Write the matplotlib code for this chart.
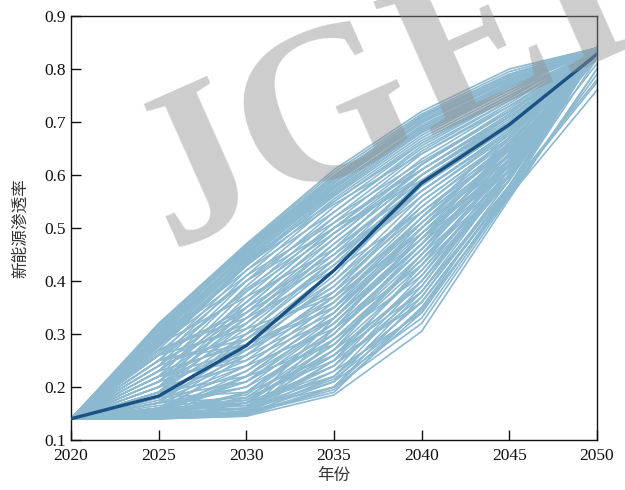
import matplotlib
matplotlib.use("Agg")
import matplotlib.pyplot as plt
import numpy as np

# Data
years = [2020, 2025, 2030, 2035, 2040, 2045, 2050]
start_value = 0.14

# scenario trajectories, values for 2025..2050 (2020 is start_value for all)
upper_band = [
    [0.32, 0.47, 0.61, 0.72, 0.80, 0.84],
    [0.31, 0.465, 0.60, 0.71, 0.79, 0.84],
    [0.305, 0.46, 0.595, 0.705, 0.785, 0.84],
    [0.30, 0.455, 0.59, 0.70, 0.78, 0.835],
    [0.295, 0.45, 0.58, 0.69, 0.775, 0.84],
    [0.29, 0.445, 0.575, 0.69, 0.77, 0.835],
    [0.285, 0.44, 0.57, 0.685, 0.77, 0.84],
    [0.28, 0.435, 0.565, 0.68, 0.765, 0.835],
    [0.31, 0.46, 0.58, 0.68, 0.76, 0.83],
    [0.27, 0.43, 0.56, 0.675, 0.76, 0.84],
    [0.26, 0.42, 0.555, 0.67, 0.755, 0.835],
    [0.25, 0.41, 0.55, 0.665, 0.75, 0.83],
    [0.30, 0.44, 0.55, 0.66, 0.745, 0.84],
    [0.24, 0.40, 0.54, 0.66, 0.75, 0.835],
    [0.29, 0.42, 0.53, 0.65, 0.74, 0.83],
    [0.23, 0.39, 0.53, 0.655, 0.745, 0.84],
    [0.22, 0.38, 0.52, 0.645, 0.74, 0.835],
    [0.275, 0.43, 0.545, 0.64, 0.73, 0.83],
    [0.21, 0.37, 0.51, 0.64, 0.735, 0.84],
    [0.20, 0.36, 0.50, 0.63, 0.73, 0.835],
    [0.265, 0.40, 0.52, 0.625, 0.72, 0.82],
    [0.25, 0.385, 0.50, 0.62, 0.725, 0.84],
    [0.19, 0.35, 0.49, 0.62, 0.72, 0.83],
    [0.285, 0.41, 0.51, 0.61, 0.71, 0.835],
    [0.24, 0.36, 0.48, 0.61, 0.715, 0.84],
    [0.315, 0.468, 0.605, 0.715, 0.795, 0.84],
    [0.312, 0.462, 0.598, 0.712, 0.79, 0.838],
    [0.308, 0.458, 0.592, 0.708, 0.788, 0.84],
    [0.302, 0.452, 0.586, 0.702, 0.782, 0.836],
    [0.298, 0.448, 0.584, 0.698, 0.778, 0.84],
    [0.292, 0.442, 0.578, 0.694, 0.774, 0.838],
    [0.288, 0.438, 0.574, 0.69, 0.772, 0.84],
    [0.282, 0.432, 0.568, 0.686, 0.768, 0.836],
    [0.278, 0.428, 0.562, 0.682, 0.766, 0.84],
    [0.318, 0.466, 0.596, 0.70, 0.78, 0.84],
    [0.305, 0.45, 0.575, 0.69, 0.775, 0.84],
    [0.295, 0.455, 0.59, 0.70, 0.782, 0.835],
]

middle_band = [
    [0.23, 0.34, 0.47, 0.60, 0.71, 0.83],
    [0.22, 0.33, 0.46, 0.59, 0.70, 0.835],
    [0.21, 0.32, 0.45, 0.60, 0.705, 0.84],
    [0.20, 0.31, 0.44, 0.58, 0.69, 0.83],
    [0.19, 0.30, 0.43, 0.59, 0.70, 0.84],
    [0.18, 0.29, 0.42, 0.57, 0.685, 0.835],
    [0.26, 0.35, 0.45, 0.57, 0.68, 0.83],
    [0.17, 0.28, 0.41, 0.58, 0.69, 0.84],
    [0.25, 0.32, 0.43, 0.56, 0.675, 0.835],
    [0.16, 0.27, 0.40, 0.56, 0.68, 0.83],
    [0.28, 0.37, 0.46, 0.58, 0.69, 0.84],
    [0.20, 0.28, 0.39, 0.55, 0.67, 0.835],
    [0.15, 0.26, 0.38, 0.55, 0.67, 0.84],
    [0.22, 0.29, 0.40, 0.54, 0.665, 0.83],
    [0.18, 0.25, 0.37, 0.53, 0.66, 0.835],
    [0.27, 0.33, 0.42, 0.53, 0.65, 0.82],
    [0.16, 0.24, 0.36, 0.52, 0.655, 0.84],
    [0.24, 0.30, 0.38, 0.51, 0.645, 0.83],
    [0.19, 0.27, 0.35, 0.50, 0.64, 0.835],
    [0.21, 0.26, 0.34, 0.49, 0.63, 0.84],
    [0.17, 0.23, 0.33, 0.48, 0.625, 0.83],
    [0.15, 0.22, 0.32, 0.47, 0.62, 0.835],
    [0.23, 0.28, 0.36, 0.50, 0.635, 0.84],
    [0.26, 0.31, 0.37, 0.49, 0.62, 0.82],
    [0.20, 0.24, 0.31, 0.46, 0.61, 0.83],
    [0.18, 0.21, 0.30, 0.45, 0.60, 0.835],
    [0.22, 0.25, 0.33, 0.47, 0.615, 0.84],
    [0.16, 0.20, 0.29, 0.44, 0.595, 0.83],
    [0.25, 0.28, 0.35, 0.48, 0.605, 0.835],
    [0.19, 0.22, 0.28, 0.43, 0.59, 0.84],
    [0.24, 0.36, 0.50, 0.62, 0.72, 0.835],
    [0.23, 0.35, 0.49, 0.61, 0.715, 0.84],
    [0.21, 0.34, 0.48, 0.61, 0.71, 0.83],
    [0.20, 0.33, 0.47, 0.60, 0.70, 0.835],
    [0.19, 0.32, 0.46, 0.62, 0.72, 0.84],
    [0.17, 0.30, 0.44, 0.60, 0.71, 0.83],
    [0.26, 0.38, 0.49, 0.60, 0.70, 0.835],
    [0.28, 0.40, 0.50, 0.59, 0.69, 0.84],
    [0.18, 0.26, 0.38, 0.54, 0.67, 0.835],
    [0.22, 0.27, 0.37, 0.52, 0.65, 0.83],
    [0.16, 0.22, 0.34, 0.51, 0.66, 0.84],
    [0.25, 0.29, 0.39, 0.53, 0.66, 0.835],
    [0.14, 0.19, 0.31, 0.49, 0.65, 0.83],
    [0.27, 0.34, 0.44, 0.57, 0.685, 0.84],
    [0.155, 0.21, 0.32, 0.48, 0.64, 0.835],
]

lower_band = [
    [0.15, 0.19, 0.30, 0.46, 0.64, 0.835],
    [0.145, 0.18, 0.28, 0.44, 0.62, 0.83],
    [0.14, 0.17, 0.27, 0.45, 0.63, 0.84],
    [0.15, 0.16, 0.26, 0.42, 0.61, 0.835],
    [0.145, 0.155, 0.25, 0.43, 0.62, 0.83],
    [0.16, 0.17, 0.24, 0.41, 0.60, 0.84],
    [0.14, 0.15, 0.23, 0.40, 0.59, 0.835],
    [0.15, 0.16, 0.22, 0.39, 0.60, 0.83],
    [0.145, 0.15, 0.21, 0.38, 0.58, 0.84],
    [0.14, 0.145, 0.20, 0.37, 0.59, 0.835],
    [0.17, 0.18, 0.25, 0.36, 0.57, 0.82],
    [0.15, 0.15, 0.19, 0.35, 0.58, 0.83],
    [0.14, 0.145, 0.185, 0.305, 0.555, 0.80],
    [0.16, 0.165, 0.23, 0.34, 0.57, 0.84],
    [0.145, 0.16, 0.21, 0.33, 0.565, 0.835],
    [0.15, 0.17, 0.22, 0.36, 0.575, 0.78],
    [0.14, 0.15, 0.20, 0.35, 0.56, 0.76],
    [0.18, 0.19, 0.26, 0.38, 0.60, 0.83],
    [0.155, 0.165, 0.24, 0.37, 0.58, 0.84],
    [0.14, 0.155, 0.215, 0.345, 0.565, 0.79],
    [0.165, 0.175, 0.27, 0.39, 0.61, 0.835],
    [0.15, 0.18, 0.29, 0.41, 0.62, 0.84],
    [0.145, 0.19, 0.31, 0.43, 0.63, 0.83],
    [0.17, 0.20, 0.32, 0.47, 0.65, 0.835],
    [0.16, 0.21, 0.33, 0.48, 0.66, 0.84],
    [0.14, 0.22, 0.34, 0.50, 0.67, 0.83],
    [0.15, 0.23, 0.35, 0.52, 0.68, 0.84],
    [0.175, 0.24, 0.36, 0.51, 0.66, 0.835],
    [0.142, 0.148, 0.25, 0.40, 0.61, 0.83],
    [0.144, 0.152, 0.27, 0.42, 0.60, 0.835],
    [0.146, 0.147, 0.29, 0.44, 0.62, 0.84],
    [0.148, 0.15, 0.31, 0.46, 0.63, 0.835],
    [0.143, 0.16, 0.33, 0.50, 0.65, 0.83],
    [0.152, 0.158, 0.24, 0.38, 0.58, 0.84],
    [0.141, 0.146, 0.22, 0.36, 0.575, 0.835],
    [0.155, 0.17, 0.28, 0.45, 0.64, 0.84],
    [0.158, 0.16, 0.20, 0.32, 0.56, 0.80],
    [0.147, 0.149, 0.195, 0.34, 0.57, 0.775],
    [0.16, 0.185, 0.30, 0.47, 0.655, 0.84],
    [0.15, 0.175, 0.26, 0.40, 0.60, 0.81],
]

# mean trajectory
mean_line = [0.14, 0.183, 0.278, 0.42, 0.585, 0.695, 0.828]

yticks = [0.1, 0.2, 0.3, 0.4, 0.5, 0.6, 0.7, 0.8, 0.9]

LINE_COLOR = "#8cb9d0"
MEAN_COLOR = "#1a5283"

plt.rcParams["font.family"] = ["Liberation Serif", "Noto Sans CJK SC"]

fig = plt.figure(figsize=(6.25, 4.9), dpi=100)
ax = fig.add_axes([71 / 625, 50 / 490, 526 / 625, 424 / 490])

for row in upper_band + middle_band + lower_band:
    ax.plot(years, [start_value] + row, color=LINE_COLOR, linewidth=1.2, zorder=2)

ax.plot(years, mean_line, color=MEAN_COLOR, linewidth=2.4, zorder=3)

ax.set_xlim(2020, 2050)
ax.set_ylim(0.1, 0.9)
ax.set_xticks(years)
ax.set_yticks(yticks)
ax.yaxis.set_major_formatter(lambda v, _: f"{v:.1f}")
ax.tick_params(direction="in", length=7, width=1, labelsize=12.5, colors="#111111",
               top=False, right=False)
ax.tick_params(axis="x", pad=6)
for s in ax.spines.values():
    s.set_linewidth(1.0)
    s.set_color("#111111")

ax.set_ylabel("新能源渗透率", fontsize=12, family=["Noto Sans CJK SC"], color="#333333", labelpad=11)
ax.set_xlabel("年份", fontsize=12, family=["Noto Sans CJK SC"], color="#333333", labelpad=2)

# watermark
fig.text(0.615, 0.81, "JGEI", rotation=24, fontsize=160, family="Liberation Serif",
         fontweight="bold", color="#8f8f8f", alpha=0.45, ha="center", va="center", zorder=10,
         clip_on=True)

fig.savefig("out.png", dpi=100)
